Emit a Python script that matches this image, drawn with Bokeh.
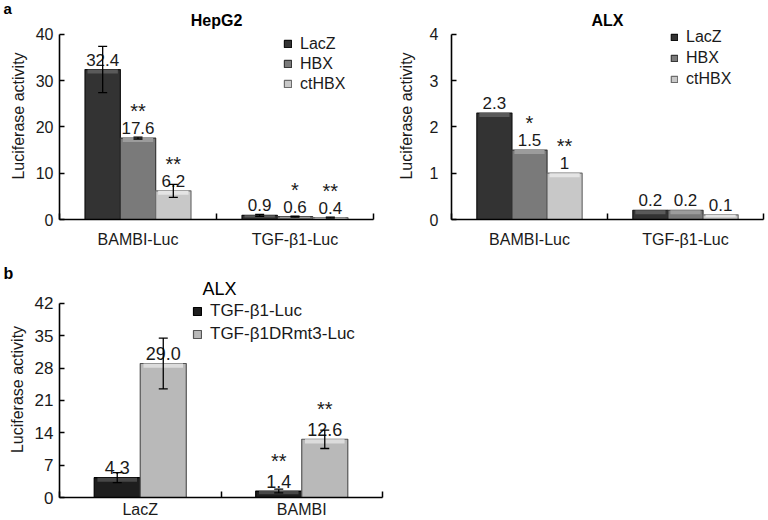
from bokeh.plotting import figure
from bokeh.models import (ColumnDataSource, FixedTicker, Legend, LegendItem, Label,
                          Whisker, TeeHead, Range1d)
from bokeh.layouts import column, row
from bokeh.embed import file_html
from bokeh.resources import INLINE
from bokeh.core.properties import value

# ---------------- data ----------------
groups_a = ["BAMBI-Luc", "TGF-β1-Luc"]
series_a = ["LacZ", "HBX", "ctHBX"]

hepg2_vals = [[32.4, 0.9], [17.6, 0.6], [6.2, 0.4]]
hepg2_text = [["32.4", "0.9"], ["17.6", "0.6"], ["6.2", "0.4"]]
hepg2_err = [[5.0, 0.2], [0.2, 0.1], [1.4, 0.1]]
hepg2_stars = [["", ""], ["**", "*"], ["**", "**"]]
hepg2_yticks = [0, 10, 20, 30, 40]

alx_vals = [[2.3, 0.2], [1.5, 0.2], [1.0, 0.1]]
alx_text = [["2.3", "0.2"], ["1.5", "0.2"], ["1", "0.1"]]
alx_stars = [["", ""], ["*", ""], ["**", ""]]
alx_yticks = [0, 1, 2, 3, 4]

groups_b = ["LacZ", "BAMBI"]
series_b = ["TGF-β1-Luc", "TGF-β1DRmt3-Luc"]
b_vals = [[4.3, 1.4], [29.0, 12.6]]
b_text = [["4.3", "1.4"], ["29.0", "12.6"]]
b_err = [[1.1, 0.4], [5.5, 2.0]]
b_stars = [["", "**"], ["", "**"]]
b_yticks = [0, 7, 14, 21, 28, 35, 42]

# ---------------- styles ----------------
FONT = "Liberation Sans"
TXT = "#1a1a1a"
styles_a = [dict(face="#333333", edge="#101010", band="#5a5a5a"),
            dict(face="#7a7a7a", edge="#383838", band="#9c9c9c"),
            dict(face="#c8c8c8", edge="#6c6c6c", band="#e4e4e4")]
styles_b = [dict(face="#1e1e1e", edge="#000000", band="#474747"),
            dict(face="#b9b9b9", edge="#555555", band="#dcdcdc")]


def make_fig(width, height, left, right, top, bottom, ymax, yend, yticks, groups,
             tick_size="16px", tick_standoff=6, label_standoff=6, xstandoff=11):
    p = figure(width=width, height=height, output_backend="svg", toolbar_location=None,
               x_range=Range1d(0, 2 * len(groups)), y_range=Range1d(0, yend),
               min_border_left=left, min_border_right=right,
               min_border_top=top, min_border_bottom=bottom)
    p.outline_line_color = None
    p.xgrid.visible = False
    p.ygrid.visible = False
    centers = [2 * i + 1 for i in range(len(groups))]
    ends = [2 * i for i in range(len(groups) + 1)]
    p.xaxis.ticker = FixedTicker(ticks=centers, minor_ticks=ends)
    p.xaxis.major_label_overrides = {c: g for c, g in zip(centers, groups)}
    p.xaxis.major_tick_line_color = None
    p.xaxis.major_tick_in = 0
    p.xaxis.major_tick_out = 0
    p.xaxis.minor_tick_in = 6
    p.xaxis.minor_tick_out = 0
    p.xaxis.minor_tick_line_color = "black"
    p.xaxis.minor_tick_line_width = 1.5
    p.xaxis.major_label_standoff = xstandoff
    p.xaxis.major_label_text_font = FONT
    p.xaxis.major_label_text_font_size = "16px"
    p.xaxis.major_label_text_color = TXT
    p.yaxis.ticker = FixedTicker(ticks=yticks)
    p.yaxis.bounds = (0, ymax)
    p.yaxis.minor_tick_line_color = None
    p.yaxis.major_tick_in = 5
    p.yaxis.major_tick_out = 0
    p.yaxis.major_tick_line_width = 1.5
    p.yaxis.major_label_standoff = tick_standoff
    p.yaxis.major_label_text_font = FONT
    p.yaxis.major_label_text_font_size = tick_size
    p.yaxis.major_label_text_color = TXT
    p.yaxis.axis_label = "Luciferase activity"
    p.yaxis.axis_label_text_font = FONT
    p.yaxis.axis_label_text_font_size = "16px"
    p.yaxis.axis_label_text_font_style = "normal"
    p.yaxis.axis_label_text_color = TXT
    p.yaxis.axis_label_standoff = label_standoff
    for ax in (p.xaxis, p.yaxis):
        ax.axis_line_width = 1.6
        ax.axis_line_color = "black"
    return p, centers


def set_title(p, text, align, size, bold, offset=0, standoff=0):
    p.title.text = text
    p.title.align = align
    p.title.offset = offset
    p.title.standoff = standoff
    p.title.text_font = FONT
    p.title.text_font_size = size
    p.title.text_font_style = "bold" if bold else "normal"
    p.title.text_color = "black"


def add_bars(p, centers, vals, texts, errs, stars, styles, width, band,
             label_size, label_off, star_off):
    n = len(vals)
    rends = []
    for k in range(n):
        off = (k - (n - 1) / 2) * width
        xs = [c + off for c in centers]
        tops = vals[k]
        band_bottom = [t - min(band, t * 0.5) for t in tops]
        src = ColumnDataSource(dict(x=xs, top=tops, bb=band_bottom, txt=texts[k], star=stars[k]))
        st = styles[k]
        r = p.vbar(x="x", top="top", bottom=0, width=width, source=src,
                   fill_color=st["face"], line_color=st["edge"], line_width=1.2)
        p.vbar(x="x", top="top", bottom="bb", width=width * 0.86, source=src,
               fill_color=st["band"], line_color=None)
        p.text(x="x", y="top", text="txt", source=src, y_offset=label_off,
               text_align="center", text_baseline="alphabetic",
               text_font=value(FONT), text_font_size=label_size, text_color=TXT)
        p.text(x="x", y="top", text="star", source=src, y_offset=star_off,
               text_align="center", text_baseline="alphabetic",
               text_font=value(FONT), text_font_size="20px", text_color=TXT)
        if errs is not None:
            esrc = ColumnDataSource(dict(x=xs, up=[t + e for t, e in zip(tops, errs[k])],
                                         lo=[t - e for t, e in zip(tops, errs[k])]))
            w = Whisker(source=esrc, base="x", upper="up", lower="lo",
                        line_color="black", line_width=1.3,
                        upper_head=TeeHead(size=9, line_width=1.3, line_color="black"),
                        lower_head=TeeHead(size=9, line_width=1.3, line_color="black"))
            w.level = "overlay"
            p.add_layout(w)
        rends.append(r)
    return rends


def add_legend(p, names, rends, loc, glyph, spacing, size="16px"):
    leg = Legend(items=[LegendItem(label=nm, renderers=[r]) for nm, r in zip(names, rends)],
                 location=loc, glyph_width=glyph, glyph_height=glyph,
                 label_text_font=FONT, label_text_font_size=size,
                 label_text_color=TXT, label_standoff=8, label_height=19,
                 spacing=spacing, padding=0, margin=0,
                 background_fill_alpha=0, border_line_color=None)
    p.add_layout(leg)


def add_label(p, x, y, text, size, bold=False, align="left"):
    p.add_layout(Label(x=x, y=y, x_units="screen", y_units="screen", text=text,
                       text_font=FONT, text_font_size=size, text_color="black",
                       text_font_style="bold" if bold else "normal",
                       text_align=align, text_baseline="alphabetic"))


# ---------------- panel a: HepG2 ----------------
TOP = 12
p1, c1 = make_fig(380, 250, 59, 7, TOP, 30, 40, 40 * (220 - TOP) / 186, hepg2_yticks, groups_a)
set_title(p1, "a", "left", "15px", True, offset=-56, standoff=-8)
add_label(p1, 157, 199, "HepG2", "16px", bold=True, align="center")
r1 = add_bars(p1, c1, hepg2_vals, hepg2_text, hepg2_err, hepg2_stars, styles_a,
              0.45, 0.86, "17px", -10, -27)
add_legend(p1, series_a, r1, (224, 126), 9, 1)

# ---------------- panel a: ALX ----------------
p2, c2 = make_fig(388, 250, 71, 5, TOP, 30, 4, 4 * (220 - TOP) / 186, alx_yticks, groups_a,
                  tick_standoff=13, label_standoff=12)
add_label(p2, 156, 199, "ALX", "16px", bold=True, align="center")
r2 = add_bars(p2, c2, alx_vals, alx_text, None, alx_stars, styles_a,
              0.45, 0.086, "17px", -10, -27)
add_legend(p2, series_a, r2, (219, 131), 8, 2)

# ---------------- panel b ----------------
p3, c3 = make_fig(390, 270, 59, 8, 31, 22, 42, 42 * 217 / 195, b_yticks, groups_b,
                  tick_size="17px", xstandoff=3)
set_title(p3, "b", "left", "16px", True, offset=-56)
r3 = add_bars(p3, c3, b_vals, b_text, b_err, b_stars, styles_b,
              0.57, 0.9, "18px", -10, -30)
add_legend(p3, series_b, r3, (133, 153), 10, 3, size="17px")
add_label(p3, 143, 209, "ALX", "18px")

layout = column(row(p1, p2), p3)
open("out.html", "w").write(file_html(layout, INLINE))
